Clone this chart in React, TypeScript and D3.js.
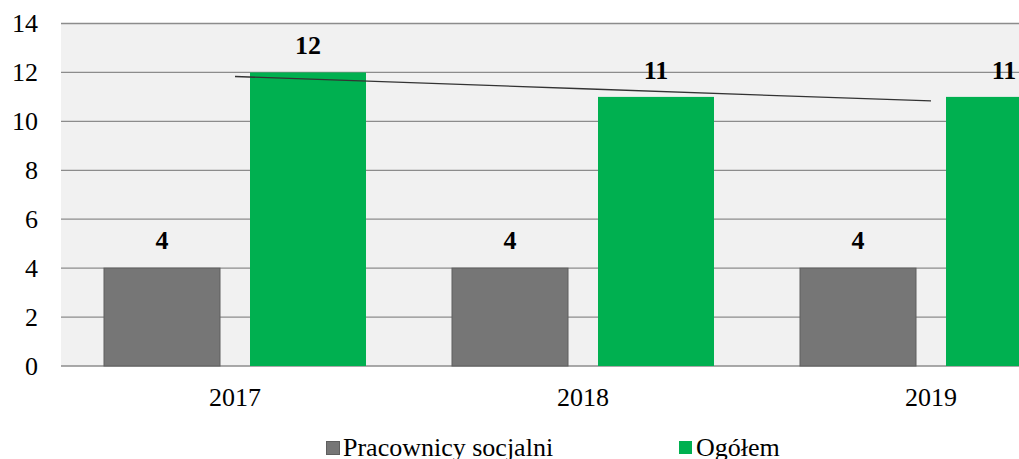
import React from "react";
import * as d3 from "d3";

const categories = ["2017", "2018", "2019"];
const seriesNames = ["Pracownicy socjalni", "Ogółem"];
const pracownicy = [4, 4, 4];
const ogolem = [12, 11, 11];
const yTicks = [0, 2, 4, 6, 8, 10, 12, 14];
const colors = ["#767676", "#00b050"];

export default function App() {
  const W = 1019, H = 459;
  const left = 61, right = 1105, top = 23.5, bottom = 366;
  const x = d3.scaleBand<string>().domain(categories).range([left, right]).paddingInner(0).paddingOuter(0);
  const y = d3.scaleLinear().domain([0, 14]).range([bottom, top]);
  const bw = 116, gap = 30;
  const font = "Liberation Serif";
  const fs = 26;

  const n = ogolem.length;
  const xs = d3.range(n);
  const mx = d3.mean(xs)!, my = d3.mean(ogolem)!;
  const slope = d3.sum(xs, (i) => (i - mx) * (ogolem[i] - my)) / d3.sum(xs, (i) => (i - mx) ** 2);
  const trend = xs.map((i) => my + slope * (i - mx));
  const cx = (c: string) => x(c)! + x.bandwidth() / 2;
  const line = d3.line<number>().x((_, i) => cx(categories[i])).y((v) => y(v));

  const T = (props: { x: number; y: number; anchor?: string; bold?: boolean; children: any; dy?: string }) => (
    <text
      x={props.x}
      y={props.y}
      dy={props.dy}
      textAnchor={props.anchor || "start"}
      fontSize={fs}
      fontWeight={props.bold ? "bold" : "normal"}
      fill="#000"
      fontFamily={font}
    >
      {props.children}
    </text>
  );

  return (
    <svg width={W} height={H} style={{ position: "absolute", left: 0, top: 0 }}>
      <rect x={left} y={top} width={right - left} height={bottom - top} fill="#f1f1f1" />
      {yTicks.map((t) => (
        <g key={t}>
          <line x1={left} x2={right} y1={y(t)} y2={y(t)} stroke="#8c8c8c" strokeWidth={1.3} />
          <T x={38} y={y(t)} dy="0.33em" anchor="end">{t}</T>
        </g>
      ))}
      {categories.map((c, i) => {
        const c0 = cx(c);
        const gx = c0 - gap / 2 - bw;
        const ox = c0 + gap / 2;
        return (
          <g key={c}>
            <rect x={gx} y={y(pracownicy[i])} width={bw} height={y(0) - y(pracownicy[i])} fill={colors[0]} stroke="#5f5f5f" strokeWidth={1} />
            <rect x={ox} y={y(ogolem[i])} width={bw} height={y(0) - y(ogolem[i])} fill={colors[1]} />
            <T x={gx + bw / 2} y={y(pracownicy[i]) - 19} anchor="middle" bold>{pracownicy[i]}</T>
            <T x={ox + bw / 2} y={y(ogolem[i]) - 18} anchor="middle" bold>{ogolem[i]}</T>
            <T x={c0} y={406} anchor="middle">{c}</T>
          </g>
        );
      })}
      <path d={line(trend)!} fill="none" stroke="#333" strokeWidth={1.3} />
      <g>
        <rect x={326.5} y={441.5} width={13} height={13} fill={colors[0]} stroke="#5f5f5f" strokeWidth={1} />
        <T x={343} y={456}>{seriesNames[0]}</T>
        <rect x={679} y={441} width={13} height={13} fill={colors[1]} />
        <T x={696} y={456}>{seriesNames[1]}</T>
      </g>
    </svg>
  );
}
